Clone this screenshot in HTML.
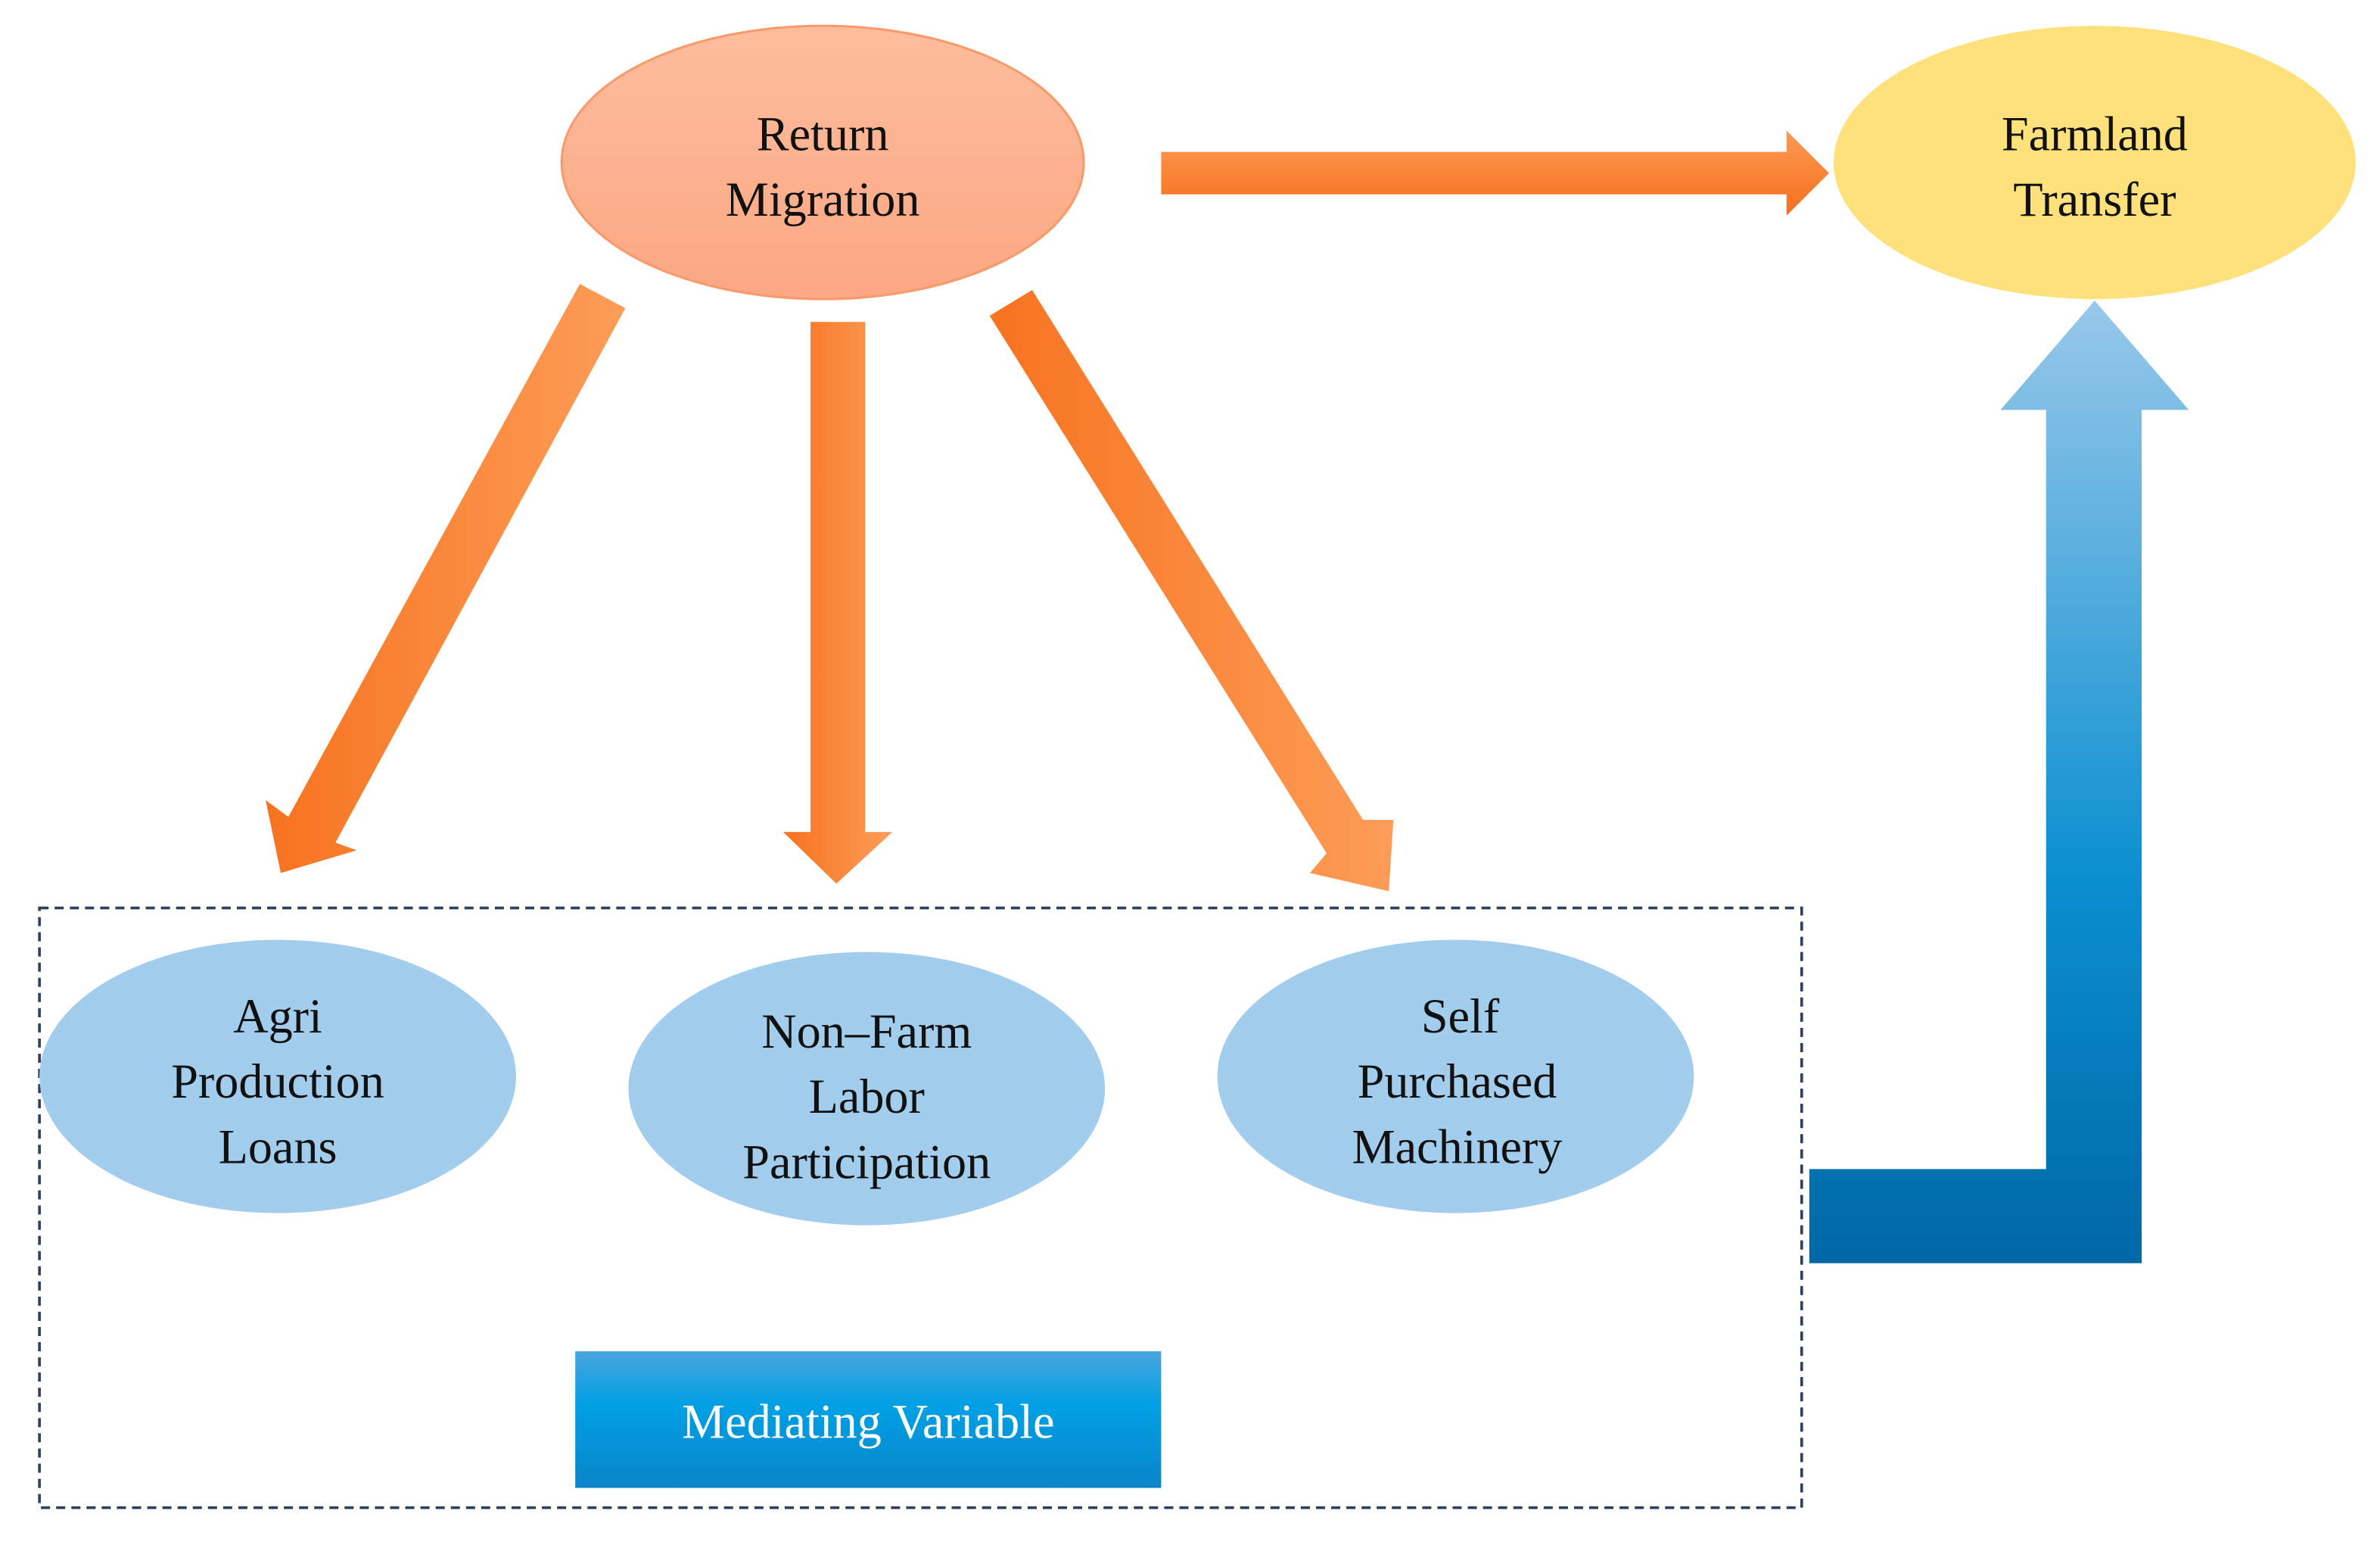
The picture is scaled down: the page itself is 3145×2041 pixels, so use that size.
<!DOCTYPE html>
<html><head><meta charset="utf-8"><style>
html,body{margin:0;padding:0;background:#fff;}
svg{display:block;}
text{font-family:"Liberation Serif",serif;font-size:32px;fill:#111;text-anchor:middle;}
</style></head><body>
<svg width="3145" height="2041" viewBox="0 0 1568 1017.6" preserveAspectRatio="none" xmlns="http://www.w3.org/2000/svg">
<defs>
<linearGradient id="rm" x1="0" y1="0" x2="0" y2="1"><stop offset="0" stop-color="#fdbd9d"/><stop offset="1" stop-color="#fca783"/></linearGradient>
<linearGradient id="oh" x1="0" y1="0" x2="0" y2="1"><stop offset="0" stop-color="#fd9a55"/><stop offset="1" stop-color="#f66f1b"/></linearGradient>
<linearGradient id="ov" x1="0" y1="0" x2="1" y2="0"><stop offset="0" stop-color="#f7731f"/><stop offset="1" stop-color="#fd9d58"/></linearGradient>
<linearGradient id="bl" x1="0" y1="0" x2="0" y2="1"><stop offset="0" stop-color="#98c8ea"/><stop offset="0.6" stop-color="#0a8fd0"/><stop offset="1" stop-color="#0068a6"/></linearGradient>
<linearGradient id="mv" x1="0" y1="0" x2="0" y2="1"><stop offset="0" stop-color="#4aa5df"/><stop offset="0.4" stop-color="#00a0e4"/><stop offset="1" stop-color="#0a85c9"/></linearGradient>
</defs>
<ellipse cx="542" cy="107" rx="172" ry="90" fill="url(#rm)" stroke="#f89a6a" stroke-width="1.5"/>
<text x="542" y="99">Return</text><text x="542" y="142">Migration</text>
<ellipse cx="1380" cy="107" rx="172" ry="90" fill="#fee17b"/>
<text x="1380" y="99">Farmland</text><text x="1380" y="142">Transfer</text>
<polygon points="765,100 1177,100 1177,86 1205,114 1177,142 1177,128 765,128" fill="url(#oh)"/>
<polygon points="534,212 570,212 570,548 588,548 551,582 516,548 534,548" fill="url(#ov)"/>
<polygon points="382,187 412,203 221,555 235,560 185,575 175,527 190,538" fill="url(#ov)"/>
<polygon points="652,208 680,191 898,540 918,540 915,587 863,575 874,562" fill="url(#ov)"/>
<rect x="26" y="598" width="1161" height="395" fill="none" stroke="#2f3f5f" stroke-width="1.8" stroke-dasharray="6,4"/>
<ellipse cx="183" cy="709" rx="157" ry="90" fill="#a3cdec"/>
<text x="183" y="680">Agri</text><text x="183" y="723">Production</text><text x="183" y="766">Loans</text>
<ellipse cx="571" cy="717" rx="157" ry="90" fill="#a3cdec"/>
<text x="571" y="690">Non–Farm</text><text x="571" y="733">Labor</text><text x="571" y="776">Participation</text>
<ellipse cx="959" cy="709" rx="157" ry="90" fill="#a3cdec"/>
<text x="962" y="680">Self</text><text x="960" y="723">Purchased</text><text x="960" y="766">Machinery</text>
<rect x="379" y="890" width="386" height="90" fill="url(#mv)"/>
<text x="572" y="947" style="fill:#fff">Mediating Variable</text>
<polygon points="1192,770 1348,770 1348,270 1318,270 1380,198 1442,270 1411,270 1411,832 1192,832" fill="url(#bl)"/>
</svg>
</body></html>
